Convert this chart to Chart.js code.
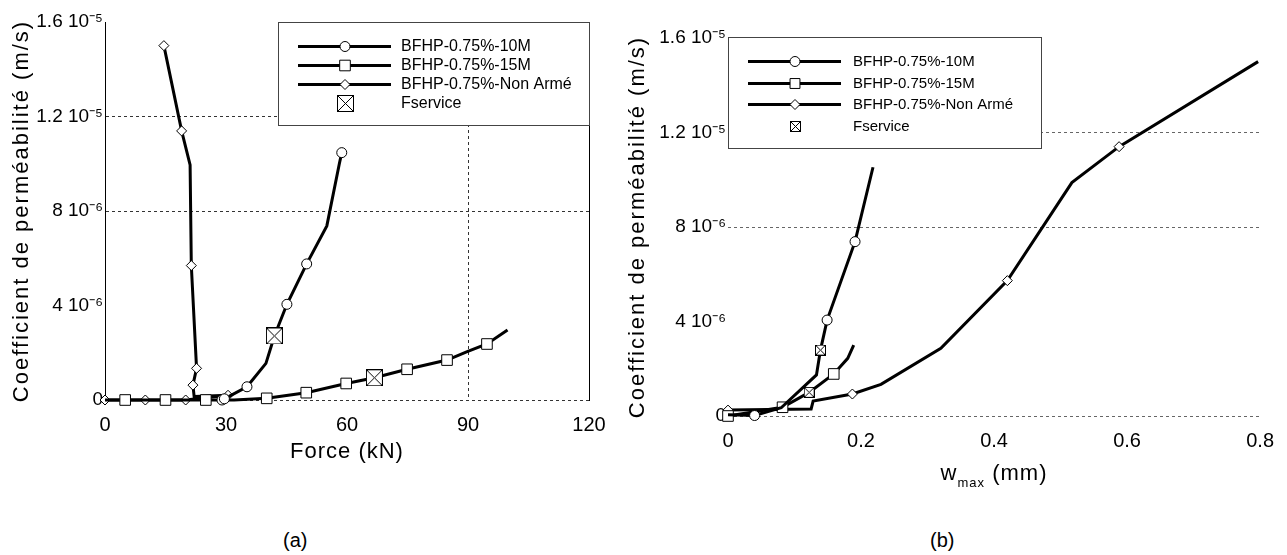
<!DOCTYPE html>
<html>
<head>
<meta charset="utf-8">
<script src="https://cdn.jsdelivr.net/npm/chart.js@4.4.1/dist/chart.umd.min.js"></script>
<style>
  body { margin: 0; width: 1287px; height: 555px; background: #fff; position: relative; overflow: hidden;
         font-family: "Liberation Sans", Arial, sans-serif; }
  #graphA { position: absolute; left: 0; top: 0; }
  #graphB { position: absolute; left: 620px; top: 0; }
  .lettre { position: absolute; top: 529px; font-size: 20px; color: #000; }
</style>
</head>
<body>
<canvas id="graphA" width="620" height="500"></canvas>
<canvas id="graphB" width="667" height="500"></canvas>
<div class="lettre" style="left:283px">(a)</div>
<div class="lettre" style="left:930px">(b)</div>
<script>
// ---- donnees ----
const labelsSeries = ['BFHP-0.75%-10M', 'BFHP-0.75%-15M', 'BFHP-0.75%-Non Armé', 'Fservice'];

// (a) coefficient de permeabilite en fonction de la force
const force10M = [29.0, 29.6, 35.2, 39.9, 42.0, 45.1, 50.0, 55.0, 58.1, 58.7];
const perm10MA = [0, 0.05e-6, 0.56e-6, 1.55e-6, 2.71e-6, 4.05e-6, 5.76e-6, 7.37e-6, 1.0e-5, 1.047e-5];
const force15M = [0, 5, 15, 25, 32, 40.1, 49.9, 59.8, 66.8, 74.9, 84.8, 89.8, 94.7, 99.8];
const perm15MA = [0, 0, 0, 0, 0, 0.07e-6, 0.31e-6, 0.70e-6, 0.94e-6, 1.30e-6, 1.69e-6, 2.05e-6, 2.37e-6, 2.96e-6];
const forceNonArme = [0, 10, 20, 30.5, 22.1, 21.8, 22.7, 21.4, 21.1, 19.0, 14.6];
const permNonArmeA = [0, 0, 0, 0.2e-6, 0.15e-6, 0.63e-6, 1.34e-6, 5.69e-6, 9.95e-6, 1.139e-5, 1.5e-5];
const forceService = [42.0, 66.8];
const permServiceA = [2.71e-6, 0.94e-6];

// (b) coefficient de permeabilite en fonction de l'ouverture w max
const ouv10M = [0, 0.040, 0.080, 0.133, 0.139, 0.149, 0.191, 0.218];
const perm10MB = [0.05e-6, 0.02e-6, 0.35e-6, 1.74e-6, 2.79e-6, 4.06e-6, 7.38e-6, 1.053e-5];
const ouv15M = [0, 0.082, 0.122, 0.159, 0.180, 0.189];
const perm15MB = [0, 0.37e-6, 1.0e-6, 1.78e-6, 2.44e-6, 3.0e-6];
const ouvNonArme = [0, 0.125, 0.128, 0.187, 0.230, 0.320, 0.420, 0.517, 0.588, 0.797];
const permNonArmeB = [0.25e-6, 0.3e-6, 0.63e-6, 0.93e-6, 1.34e-6, 2.87e-6, 5.73e-6, 9.88e-6, 1.14e-5, 1.5e-5];
const ouvService = [0.139, 0.122];
const permServiceB = [2.79e-6, 1.0e-6];

// axes
const yTickValeurs = [0, 4e-6, 8e-6, 1.2e-5, 1.6e-5];
const yTickLabels = ['0', '4 10⁻⁶', '8 10⁻⁶', '1.2 10⁻⁵', '1.6 10⁻⁵'];
const xTickValeursA = [0, 30, 60, 90, 120];
const xTickLabelsA = ['0', '30', '60', '90', '120'];
const xTickValeursB = [0, 0.2, 0.4, 0.6, 0.8];
const xTickLabelsB = ['0', '0.2', '0.4', '0.6', '0.8'];
const titreY = 'Coefficient de perméabilité (m/s)';
const titreXA = 'Force (kN)';

const POLICE = '"Liberation Sans", Arial, sans-serif';
Chart.defaults.font.family = POLICE;
Chart.defaults.color = '#000';

function points(xs, ys) {
    return xs.map((x, i) => ({ x: x, y: ys[i] }));
}

// carre barre (Fservice)
function carreCroise(taille) {
    const c = document.createElement('canvas');
    c.width = taille; c.height = taille;
    const g = c.getContext('2d');
    g.fillStyle = '#fff';
    g.fillRect(0, 0, taille, taille);
    g.strokeStyle = '#000';
    g.lineWidth = 1;
    g.strokeRect(0.5, 0.5, taille - 1, taille - 1);
    g.beginPath();
    g.moveTo(0.5, 0.5); g.lineTo(taille - 0.5, taille - 0.5);
    g.moveTo(taille - 0.5, 0.5); g.lineTo(0.5, taille - 0.5);
    g.stroke();
    return c;
}

function marqueur(ctx, style, x, y, r) {
    ctx.save();
    if (typeof style === 'object') {
        ctx.drawImage(style, Math.round(x - style.width / 2), Math.round(y - style.height / 2));
        ctx.restore();
        return;
    }
    ctx.fillStyle = '#fff';
    ctx.strokeStyle = '#000';
    ctx.lineWidth = 1;
    ctx.beginPath();
    if (style === 'circle') {
        ctx.arc(x, y, r, 0, Math.PI * 2);
    } else if (style === 'rect') {
        const h = r * Math.SQRT1_2;
        ctx.rect(x - h, y - h, 2 * h, 2 * h);
    } else {
        ctx.moveTo(x - r, y); ctx.lineTo(x, y - r); ctx.lineTo(x + r, y); ctx.lineTo(x, y + r); ctx.closePath();
    }
    ctx.fill();
    ctx.stroke();
    ctx.restore();
}

// legende encadree dans la zone du graphique
const legendeBoite = {
    id: 'legendeBoite',
    afterDraw(chart, args, opts) {
        const ctx = chart.ctx;
        const a = chart.chartArea;
        const gauche = opts.aDroite ? a.right - opts.largeur : a.left;
        const haut = a.top + opts.decalageHaut;
        ctx.save();
        ctx.fillStyle = '#fff';
        ctx.fillRect(gauche, haut, opts.largeur, opts.hauteur);
        ctx.strokeStyle = '#444';
        ctx.lineWidth = 1;
        ctx.strokeRect(gauche + 0.5, haut + 0.5, opts.largeur, opts.hauteur);
        ctx.font = opts.taillePolice + 'px ' + POLICE;
        ctx.textBaseline = 'middle';
        ctx.fillStyle = '#000';
        chart.data.datasets.forEach((ds, i) => {
            const y = Math.round(haut + opts.premiereLigne + i * opts.pas) + 0.5;
            if (ds.showLine) {
                ctx.strokeStyle = '#000';
                ctx.lineWidth = 3;
                ctx.beginPath();
                ctx.moveTo(gauche + 20, y);
                ctx.lineTo(gauche + 113, y);
                ctx.stroke();
            }
            marqueur(ctx, ds.pointStyle, gauche + 67, y, opts.rayons[i]);
            ctx.fillText(ds.label, gauche + opts.texteX, y);
        });
        ctx.restore();
    }
};

// titres des axes (lettres un peu espacees comme sur la figure)
const titresAxes = {
    id: 'titresAxes',
    afterDraw(chart, args, opts) {
        const ctx = chart.ctx;
        const a = chart.chartArea;
        const grand = '22px ' + POLICE, petit = '13px ' + POLICE;
        ctx.save();
        ctx.fillStyle = '#000';
        ctx.textBaseline = 'middle';
        ctx.font = grand;
        // titre vertical
        ctx.save();
        ctx.translate(opts.yTitreX, (a.top + a.bottom) / 2);
        ctx.rotate(-Math.PI / 2);
        ctx.letterSpacing = '2px';
        ctx.textAlign = 'center';
        ctx.fillText(titreY, 0, 0);
        ctx.restore();
        // titre horizontal
        const y = a.bottom + opts.xTitreDecalage;
        const cx = (a.left + a.right) / 2;
        ctx.letterSpacing = '1px';
        ctx.textAlign = 'left';
        if (opts.indice) {
            const w1 = ctx.measureText('w').width, w3 = ctx.measureText(' (mm)').width;
            ctx.font = petit;
            const w2 = ctx.measureText('max').width;
            let x = cx - (w1 + w2 + w3) / 2;
            ctx.font = grand; ctx.fillText('w', x, y); x += w1;
            ctx.font = petit; ctx.fillText('max', x, y + 9); x += w2;
            ctx.font = grand; ctx.fillText(' (mm)', x, y);
        } else {
            const w = ctx.measureText(opts.xTitre).width;
            ctx.fillText(opts.xTitre, cx - w / 2, y);
        }
        ctx.restore();
    }
};

function courbe(label, pts, style, rayons) {
    return {
        label: label,
        data: pts,
        showLine: true,
        borderColor: '#000',
        borderWidth: 3,
        pointStyle: style,
        pointRadius: rayons,
        pointBackgroundColor: '#fff',
        pointBorderColor: '#000',
        pointBorderWidth: 1,
        clip: false,
        order: 1
    };
}

function service(pts, taille) {
    return {
        label: labelsSeries[3],
        data: pts,
        showLine: false,
        pointStyle: carreCroise(taille),
        pointRadius: 8,
        clip: false,
        order: -1
    };
}

function axeY(lignes, couleur, largeurAxe, bordure) {
    return {
        type: 'linear',
        min: 0, max: 1.6e-5,
        afterBuildTicks: s => { s.ticks = yTickValeurs.map(v => ({ value: v })); },
        afterFit: s => { s.width = largeurAxe; },
        ticks: { callback: (v, i) => yTickLabels[i], font: { size: 19 }, padding: 2 },
        grid: {
            drawTicks: false,
            color: c => (c.tick && lignes.includes(c.tick.value)) ? couleur : 'rgba(0,0,0,0)'
        },
        border: { display: bordure, color: '#000', width: 1, dash: [3, 3] },
        title: { display: false }
    };
}

// ---- graphique (a) ----
new Chart(document.getElementById('graphA'), {
    type: 'scatter',
    data: {
        datasets: [
            courbe(labelsSeries[0], points(force10M, perm10MA), 'circle', [5, 5, 5, 0, 0, 5, 5, 0, 0, 5]),
            courbe(labelsSeries[1], points(force15M, perm15MA), 'rect', [0, 7.5, 7.5, 7.5, 0, 7.5, 7.5, 7.5, 0, 7.5, 7.5, 0, 7.5, 0]),
            courbe(labelsSeries[2], points(forceNonArme, permNonArmeA), 'rectRot', [5, 5, 5, 5, 0, 5, 5, 5, 0, 5, 5]),
            service(points(forceService, permServiceA), 17)
        ]
    },
    options: {
        responsive: false,
        animation: false,
        events: [],
        layout: { padding: { top: 22, right: 31, bottom: 0, left: 0 }, autoPadding: false },
        scales: {
            x: {
                type: 'linear',
                min: 0, max: 120,
                afterBuildTicks: s => { s.ticks = xTickValeursA.map(v => ({ value: v })); },
                afterFit: s => { s.height = 100; },
                ticks: { callback: (v, i) => xTickLabelsA[i], font: { size: 20 }, padding: 13, maxRotation: 0 },
                grid: { drawTicks: false, color: c => (c.tick && c.tick.value === 90) ? '#333' : 'rgba(0,0,0,0)' },
                border: { display: false, dash: [3, 3] },
                title: { display: false }
            },
            y: axeY([0, 8e-6, 1.2e-5], '#333', 105, true),
            y2: {
                type: 'linear',
                position: 'right',
                afterFit: s => { s.width = 0; },
                ticks: { display: false },
                grid: { drawOnChartArea: false, drawTicks: false },
                border: { display: true, color: '#000', width: 1 }
            }
        },
        plugins: {
            legend: { display: false },
            tooltip: { enabled: false },
            legendeBoite: { aDroite: true, largeur: 311, hauteur: 103, decalageHaut: 0,
                            premiereLigne: 24, pas: 19, texteX: 123, taillePolice: 16, rayons: [5, 7.5, 5, 0] },
            titresAxes: { yTitreX: 22, xTitreDecalage: 52, xTitre: titreXA, indice: false }
        }
    },
    plugins: [legendeBoite, titresAxes]
});

// ---- graphique (b) ----
new Chart(document.getElementById('graphB'), {
    type: 'scatter',
    data: {
        datasets: [
            courbe(labelsSeries[0], points(ouv10M, perm10MB), 'circle', [0, 5, 0, 0, 0, 5, 5, 0]),
            courbe(labelsSeries[1], points(ouv15M, perm15MB), 'rect', [7.5, 7.5, 0, 7.5, 0, 0]),
            courbe(labelsSeries[2], points(ouvNonArme, permNonArmeB), 'rectRot', [5, 0, 0, 5, 0, 0, 5, 0, 5, 0]),
            service(points(ouvService, permServiceB), 11)
        ]
    },
    options: {
        responsive: false,
        animation: false,
        events: [],
        layout: { padding: { top: 38, right: 25, bottom: 0, left: 0 }, autoPadding: false },
        scales: {
            x: {
                type: 'linear',
                min: 0, max: 0.8,
                afterBuildTicks: s => { s.ticks = xTickValeursB.map(v => ({ value: v })); },
                afterFit: s => { s.height = 84; },
                ticks: { callback: (v, i) => xTickLabelsB[i], font: { size: 20 }, padding: 13, maxRotation: 0 },
                grid: { display: false, drawTicks: false },
                border: { display: false },
                title: { display: false }
            },
            y: axeY([0, 8e-6, 1.2e-5], '#666', 108, false)
        },
        plugins: {
            legend: { display: false },
            tooltip: { enabled: false },
            legendeBoite: { aDroite: false, largeur: 313, hauteur: 111, decalageHaut: -1,
                            premiereLigne: 24, pas: 21.7, texteX: 125, taillePolice: 15, rayons: [5, 7, 5, 0] },
            titresAxes: { yTitreX: 18, xTitreDecalage: 58, indice: true }
        }
    },
    plugins: [legendeBoite, titresAxes]
});
</script>
</body>
</html>
